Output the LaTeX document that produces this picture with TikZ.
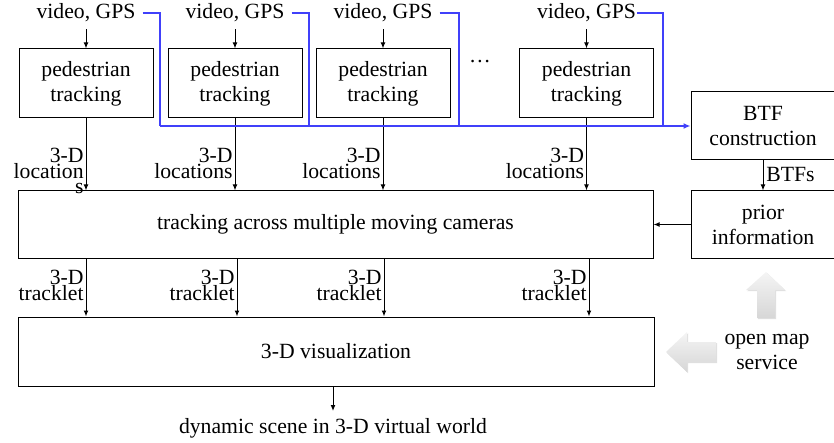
\documentclass[tikz,border=0pt]{standalone}
\usepackage{fontspec}
\setmainfont{Liberation Serif}
\usepackage{tikz}
\usetikzlibrary{positioning,arrows.meta,shadows}
\definecolor{busblue}{RGB}{64,64,250}
\newcommand{\lblfont}{\fontsize{10.85pt}{7.8pt}\selectfont\lineskiplimit=-10pt\relax}

\begin{document}
\begin{tikzpicture}[x=0.5pt, y=-0.5pt,
  font=\fontsize{10.85pt}{12.5pt}\selectfont,
  box/.style={draw, line width=0.5pt, align=center, inner sep=0pt},
  ped/.style={box, minimum width=67pt, minimum height=34.5pt},
  lbl/.style={anchor=north east, align=right, inner sep=1pt, font=\lblfont},
  flow/.style={-{Latex[length=3pt,width=2.4pt]}, line width=0.5pt},
  bus/.style={busblue, line width=0.7pt},
  greyarrow/.style={top color=gray!8, bottom color=gray!32, draw=none,
    drop shadow={shadow xshift=0.6pt, shadow yshift=-0.6pt, opacity=0.25}}]
				\useasboundingbox (0,0) rectangle (834,443);
				% inputs and pedestrian tracking
				\node (in1) at (86,13) {video, GPS};
				\node (in2) at (235,13) {video, GPS};
				\node (in3) at (383,13) {video, GPS};
				\node (in4) at (586.5,13) {video, GPS};
				\node[ped] (ped1) at (86,83.5) {pedestrian\\tracking};
				\node[ped] (ped2) at (235,83.5) {pedestrian\\tracking};
				\node[ped] (ped3) at (383,83.5) {pedestrian\\tracking};
				\node[ped] (ped4) at (586.5,83.5) {pedestrian\\tracking};
				\node (dots) at (480,62) {\dots};
				% right column
				\node[box, minimum width=72pt, minimum height=34pt] (btf) at (763,126) {BTF\\construction};
				\node[box, minimum width=72pt, minimum height=33.5pt] (prior) at (763,224.5) {prior\\information};
				\node[anchor=west, inner sep=1pt] (btfs) at (764,175) {BTFs};
				\node[align=center] (oms) at (767,351.5) {open map\\service};
				% main blocks
				\node[box, minimum width=317.5pt, minimum height=33.5pt] (track) at (335.5,224.5) {tracking across multiple moving cameras};
				\node[box, minimum width=318pt, minimum height=34.5pt] (vis) at (336,351.5) {3-D visualization};
				\node (out) at (333,428) {dynamic scene in 3-D virtual world};
				% labels
				\node[lbl] (loc1) at (86,146) {3-D\\location\\s};
				\node[lbl] (loc2) at (235,146) {3-D\\locations};
				\node[lbl] (loc3) at (383,146) {3-D\\locations};
				\node[lbl] (loc4) at (586.5,146) {3-D\\locations};
				\coordinate (k1) at (86,258);
				\coordinate (k2) at (237,258);
				\coordinate (k3) at (384,258);
				\coordinate (k4) at (589,258);
				\node[lbl] (tl1) at (k1 |- 0,268) {3-D\\tracklet};
				\node[lbl] (tl2) at (k2 |- 0,268) {3-D\\tracklet};
				\node[lbl] (tl3) at (k3 |- 0,268) {3-D\\tracklet};
				\node[lbl] (tl4) at (k4 |- 0,268) {3-D\\tracklet};
				% arrows
				\draw[flow] (in1) -- (ped1);
				\draw[flow] (in2) -- (ped2);
				\draw[flow] (in3) -- (ped3);
				\draw[flow] (in4) -- (ped4);
				\draw[flow] (ped1) -- (ped1 |- track.north);
				\draw[flow] (ped2) -- (ped2 |- track.north);
				\draw[flow] (ped3) -- (ped3 |- track.north);
				\draw[flow] (ped4) -- (ped4 |- track.north);
				\draw[flow] (k1) -- (k1 |- vis.north);
				\draw[flow] (k2) -- (k2 |- vis.north);
				\draw[flow] (k3) -- (k3 |- vis.north);
				\draw[flow] (k4) -- (k4 |- vis.north);
				\draw[flow] (btf) -- (prior);
				\draw[flow] (prior) -- (track);
				\draw[flow] (vis.south -| out) -- (out);
				% GPS feed to BTF construction
				\coordinate (b1) at (160,126);
				\coordinate (b2) at (309,126);
				\coordinate (b3) at (459,126);
				\coordinate (b4) at (663,126);
				\draw[bus] (in1.east) -| (b1);
				\draw[bus] (in2.east) -| (b2);
				\draw[bus] (in3.east) -| (b3);
				\draw[bus, shorten <=-3pt] (in4.east) -| (b4);
				\draw[bus, -{Latex[length=3.5pt,width=3pt]}] (b1) -- (btf.west);
				% map service arrows
				\path[greyarrow] (766,272) -- (785,290) -- (775,290) -- (775,318) -- (757,318) -- (757,290) -- (746,290) -- cycle;
				\path[greyarrow] (666,352) -- (687,332) -- (687,342) -- (716,342) -- (716,362) -- (687,362) -- (687,372) -- cycle;
\end{tikzpicture}
\end{document}
